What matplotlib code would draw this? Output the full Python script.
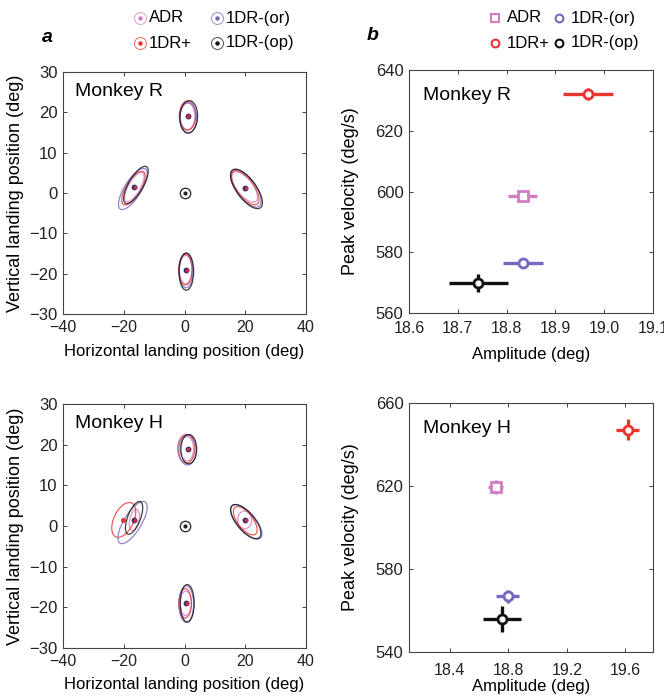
import matplotlib
matplotlib.use("Agg")
import matplotlib.pyplot as plt
from matplotlib.patches import Ellipse
from matplotlib.lines import Line2D

plt.rcParams["font.family"] = ["Liberation Sans", "DejaVu Sans"]
plt.rcParams["font.size"] = 10

W, H = 664, 698

conds = ["ADR", "1DR+", "1DR-(or)", "1DR-(op)"]
colors = {"ADR": "#d27cc6", "1DR+": "#e8352f", "1DR-(or)": "#7468c0", "1DR-(op)": "#111111"}

# ellipses: (cx, cy, width, height, angle) in data units, one per target (top, left, right, bottom)
ell_R = {
    "ADR": [(1.0, 19.0, 4.8, 6.6, 0), (-16.5, 1.5, 9.0, 3.6, 50), (19.8, 1.5, 10.4, 4.6, -40), (0.4, -19.0, 4.2, 7.0, 0)],
    "1DR+": [(1.0, 19.2, 5.4, 7.2, 0), (-16.8, 1.2, 10.5, 4.4, 48), (20.0, 1.3, 11.4, 5.0, -42), (0.3, -19.0, 4.4, 7.6, 0)],
    "1DR-(or)": [(1.2, 18.6, 5.6, 7.6, 0), (-17.0, 1.0, 13.0, 5.0, 48), (20.2, 1.2, 12.6, 5.6, -42), (0.5, -19.2, 4.6, 8.6, 0)],
    "1DR-(op)": [(1.4, 18.9, 5.8, 8.0, -5), (-16.0, 2.0, 11.5, 4.4, 50), (20.4, 1.0, 13.2, 5.6, -42), (0.6, -19.5, 4.8, 9.2, 0)],
}
ell_H = {
    "ADR": [(0.8, 19.0, 4.4, 6.0, 0), (-16.5, 1.5, 5.4, 3.0, 70), (19.8, 1.5, 4.6, 4.4, 0), (0.4, -19.0, 3.6, 6.0, 0)],
    "1DR+": [(0.6, 19.0, 5.6, 7.0, 0), (-20.0, 1.5, 10.0, 6.0, 50), (20.0, 1.3, 9.5, 4.4, -40), (0.2, -19.0, 4.2, 7.2, 0)],
    "1DR-(or)": [(1.0, 18.7, 5.8, 7.4, 0), (-17.1, 0.85, 13.2, 5.2, 48), (20.3, 1.0, 12.4, 5.2, -37), (0.6, -19.2, 4.8, 9.0, 0)],
    "1DR-(op)": [(1.4, 18.9, 5.2, 7.2, 0), (-16.6, 2.0, 9.0, 4.0, 60), (20.2, 1.1, 12.0, 5.0, -38), (0.9, -19.0, 4.6, 9.2, 0)],
}
# landing means (dots)
dots_R = [(1.0, 19.0), (-16.5, 1.5), (20.0, 1.3), (0.5, -19.0)]
dots_H = [(1.0, 19.0), (-16.5, 1.5), (19.8, 1.5), (0.5, -19.0)]
red_dot_H = (-20.2, 1.5)

# main sequence: amplitude, peak velocity, x error, y error
amp_R = {"ADR": 18.833, "1DR+": 18.967, "1DR-(or)": 18.834, "1DR-(op)": 18.742}
vel_R = {"ADR": 598.4, "1DR+": 632.1, "1DR-(or)": 576.4, "1DR-(op)": 569.8}
xerr_R = {"ADR": 0.03, "1DR+": 0.052, "1DR-(or)": 0.041, "1DR-(op)": 0.061}
yerr_R = {"ADR": 1.2, "1DR+": 2.0, "1DR-(or)": 1.2, "1DR-(op)": 3.0}

amp_H = {"ADR": 18.713, "1DR+": 19.616, "1DR-(or)": 18.795, "1DR-(op)": 18.754}
vel_H = {"ADR": 619.4, "1DR+": 647.2, "1DR-(or)": 566.8, "1DR-(op)": 556.0}
xerr_H = {"ADR": 0.05, "1DR+": 0.08, "1DR-(or)": 0.08, "1DR-(op)": 0.13}
yerr_H = {"ADR": 3.4, "1DR+": 5.0, "1DR-(or)": 3.0, "1DR-(op)": 6.4}


def add_ax(fig, l, t, r, b):
    return fig.add_axes([l / W, 1 - b / H, (r - l) / W, (b - t) / H])


def style(ax, xpad=4):
    ax.tick_params(direction="in", top=True, right=True, length=3, width=0.6,
                   pad=4, colors="#222222")
    ax.tick_params(axis="x", labelsize=11.5, pad=xpad)
    ax.tick_params(axis="y", labelsize=12)
    for s in ax.spines.values():
        s.set_linewidth(0.8)
        s.set_color("#444444")


def draw_land(ax, ells, dots, title, xlpad, extra_dot=None):
    for c in conds:
        for cx, cy, w, h, a in ells[c]:
            ax.add_patch(Ellipse((cx, cy), w, h, angle=a, fill=False,
                                 edgecolor=colors[c], lw=0.9, alpha=0.8))
    for x, y in dots:
        ax.plot(x, y, "o", ms=3.2, color="#3a2a70", zorder=5)
        ax.plot(x + 0.3, y, "o", ms=1.8, color="#c0304a", zorder=6)
    if extra_dot:
        ax.plot(*extra_dot, "o", ms=2.6, color=colors["1DR+"], zorder=5)
    ax.plot(0, 0, "o", ms=7.5, mfc="none", mec="#222222", mew=0.9)
    ax.plot(0, 0, "o", ms=2, color="#222222")
    ax.set_xlim(-40, 40)
    ax.set_ylim(-30, 30)
    ax.set_xticks([-40, -20, 0, 20, 40])
    ax.set_yticks([-30, -20, -10, 0, 10, 20, 30])
    ax.set_xlabel("Horizontal landing position (deg)", fontsize=12, labelpad=xlpad)
    ax.set_ylabel("Vertical landing position (deg)", fontsize=13, labelpad=4)
    ax.text(0.05, 0.955, title, transform=ax.transAxes, fontsize=14, va="top")
    style(ax)


def draw_main(ax, amp, vel, xerr, yerr, title, xlpad, xpad):
    for c in ["1DR-(op)", "1DR-(or)", "ADR", "1DR+"]:
        mk = "s" if c == "ADR" else "o"
        ax.errorbar(amp[c], vel[c], xerr=xerr[c], yerr=yerr[c], fmt=mk, color=colors[c],
                    ms=6.5, mfc="white", mew=2, elinewidth=2.4, capsize=0, zorder=3)
    ax.set_ylabel("Peak velocity (deg/s)", fontsize=13, labelpad=12)
    ax.set_xlabel("Amplitude (deg)", fontsize=12, labelpad=xlpad)
    ax.text(0.057, 0.93, title, transform=ax.transAxes, fontsize=14, va="top")
    style(ax, xpad)


fig = plt.figure(figsize=(W / 100, H / 100), dpi=100)

ax1 = add_ax(fig, 63, 72, 306, 314)
draw_land(ax1, ell_R, dots_R, "Monkey R", 7)
ax2 = add_ax(fig, 409, 70, 653, 313)
draw_main(ax2, amp_R, vel_R, xerr_R, yerr_R, "Monkey R", 8, 6)
ax2.set_xlim(18.6, 19.1)
ax2.set_ylim(560, 640)
ax2.set_xticks([18.6, 18.7, 18.8, 18.9, 19.0, 19.1])
ax2.set_xticklabels(["18.6", "18.7", "18.8", "18.9", "19.0", "19.1"])
ax2.set_yticks([560, 580, 600, 620, 640])

ax3 = add_ax(fig, 63, 404, 306, 648)
draw_land(ax3, ell_H, dots_H, "Monkey H", 6, extra_dot=red_dot_H)
ax4 = add_ax(fig, 409, 403, 653, 652)
draw_main(ax4, amp_H, vel_H, xerr_H, yerr_H, "Monkey H", 1, 8)
ax4.set_xlim(18.12, 19.79)
ax4.set_ylim(540, 660)
ax4.set_xticks([18.4, 18.8, 19.2, 19.6])
ax4.set_yticks([540, 580, 620, 660])


# legends drawn by hand at figure pixel positions
def fig_mark(x, y, **kw):
    fig.add_artist(Line2D([x / W], [1 - y / H], ls="none", transform=fig.transFigure, **kw))


leg_rows = [18, 43]
for i, c in enumerate(conds):
    row = leg_rows[i % 2]
    col = i // 2
    # panel a
    mx = [140, 217][col]
    fig_mark(mx, row, marker="o", ms=8.6, mfc="none", mec=colors[c], mew=0.7, alpha=0.75)
    fig_mark(mx, row, marker="o", ms=2.2, color=colors[c])
    fig.text((mx + 9) / W, 1 - row / H, c, fontsize=12, va="center")
    # panel b
    bx = [495, 559][col]
    fig_mark(bx, row, marker="s" if c == "ADR" else "o", ms=5.2 if c == "ADR" else 5.6,
             mfc="none", mec=colors[c], mew=1.5)
    fig.text((bx + 12) / W, 1 - row / H, c, fontsize=12, va="center")

fig.text(42 / W, 1 - 37 / H, "a", fontsize=14, fontweight="bold", fontstyle="italic",
         va="center")
fig.text(367 / W, 1 - 36 / H, "b", fontsize=14, fontweight="bold", fontstyle="italic",
         va="center")

fig.savefig("out.png", dpi=100)
